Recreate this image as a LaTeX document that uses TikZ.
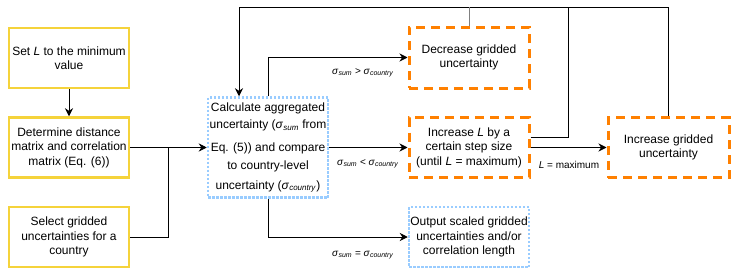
\documentclass[tikz,border=0pt]{standalone}
\usepackage{fontspec}
\setmainfont{Liberation Sans}
\usetikzlibrary{arrows.meta}
\definecolor{ybox}{HTML}{F5D33B}
\definecolor{obox}{HTML}{FF8000}
\definecolor{bbox}{HTML}{99CCFF}
\newcommand{\sig}[1]{\textit{σ}\textsubscript{\textit{#1}}}
\begin{document}
\begin{tikzpicture}[x=1pt,y=-1pt,
  base/.style={align=center,inner sep=0pt,font=\fontsize{12}{14.5}\selectfont},
  ybx/.style={base,draw=ybox,line width=2.5pt,minimum width=120pt,minimum height=60pt},
  obx/.style={base,draw=obox,line width=3pt,dash pattern=on 9pt off 6pt,minimum width=120pt,minimum height=60pt},
  bbx/.style={base,draw=bbox,line width=2.5pt,dash pattern=on 2.5pt off 1.5pt,minimum width=120pt,minimum height=60pt},
  conn/.style={draw=black,line width=0.8pt},
  arr/.style={conn,-{Stealth[length=8pt,width=8pt]}},
  lbl/.style={inner sep=0pt,font=\fontsize{10}{12}\selectfont}]
\useasboundingbox (0,0) rectangle (737,276);
\node[ybx] (set) at (69,58) {Set \textit{L} to the minimum\\value};
\node[ybx] (det) at (69,147.5) {Determine distance\\matrix and correlation\\matrix (Eq. (6))};
\node[ybx] (sel) at (69,237) {Select gridded\\uncertainties for a\\country};
\node[bbx,minimum height=100pt] (calc) at (268,147.5) {Calculate aggregated\\[3pt]uncertainty (\sig{sum} from\\[8pt]Eq. (5)) and compare\\[4pt]to country-level\\[5pt]uncertainty (\sig{country})};
\node[obx,minimum height=61pt] (dec) at (469,57.5) {Decrease gridded\\uncertainty};
\node[obx] (incL) at (469,147.5) {Increase \textit{L} by a\\certain step size\\(until \textit{L} = maximum)};
\node[bbx] (out) at (469,237) {Output scaled gridded\\uncertainties and/or\\correlation length};
\node[obx,minimum width=121pt] (incG) at (668.5,147.5) {Increase gridded\\uncertainty};
\coordinate (j) at (168,147.5);
\coordinate (tL) at (239,7);
\coordinate (tm) at (568,7);
\draw[arr] (set) -- (det);
\draw[arr] (det) -- (calc);
\draw[conn] (sel.east) -| (j);
\draw[arr] (calc.north) |- (dec.west);
\draw[arr] (calc) -- (incL);
\draw[arr] (calc.south) |- (out.west);
\draw[arr] (incL) -- (incG);
\draw[conn] ([yshift=10pt]incL.east) -| (tm);
\draw[arr] (incG.north) |- (tL) -- (tL |- calc.north);
\draw[conn,draw=gray] (dec.north) -- (dec.north |- tL);
\node[lbl] (l1) at (363,73) {\sig{sum} > \sig{country}};
\node[lbl] (l2) at (368,164) {\sig{sum} < \sig{country}};
\node[lbl] (l3) at (363,255) {\sig{sum} = \sig{country}};
\node[lbl] (l4) at (569,165) {\textit{L} = maximum};
\end{tikzpicture}
\end{document}
